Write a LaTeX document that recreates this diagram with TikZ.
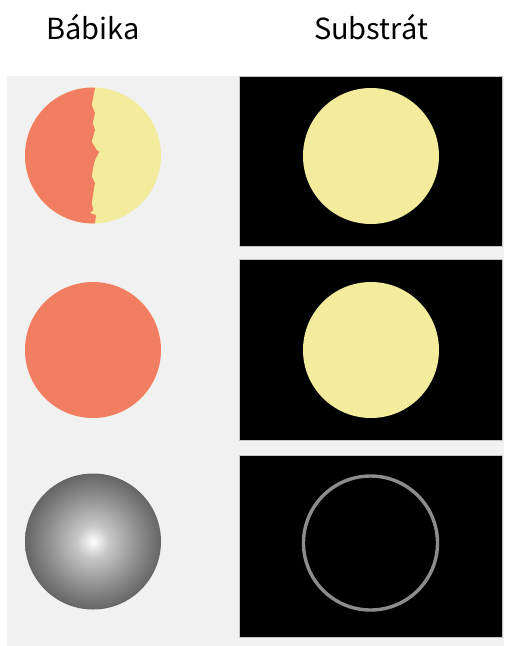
\documentclass[tikz,border=0pt]{standalone}
\usepackage{fontspec}
\setmainfont{Noto Sans CJK JP}
\definecolor{salmon}{HTML}{F27E61}
\definecolor{pale}{HTML}{F2EC9C}
\definecolor{backgr}{HTML}{F1F1F1}
\definecolor{ringgray}{HTML}{8C8C8C}
\pgfdeclareradialshading{bulb}{\pgfpoint{0bp}{0bp}}{color(0bp)=(white); color(6bp)=(black!22); color(17bp)=(black!45); color(28bp)=(black!66); color(33bp)=(black!80); color(35.4bp)=(black!95); color(50bp)=(black)}

\begin{document}
\begin{tikzpicture}[x=1pt, y=-1pt,
  title/.style={anchor=base, font=\fontsize{29}{30}\selectfont},
  panel/.style={fill=black, draw=gray!45, line width=0.8pt},
  disc/.style={circle, minimum size=136pt, inner sep=0pt}]
  \useasboundingbox (0,0) rectangle (504,646);
  \fill[backgr] (7,76) rectangle (504,646);

  \node[title] (bab) at (93,39) {Bábika};
  \node[title] (sub) at (371,39) {Substrát};

  % substrate panels
  \draw[panel] (239,76) rectangle (502,246);
  \draw[panel] (239,259) rectangle (502,440);
  \draw[panel] (239,455) rectangle (502,637);

  % row 1: torn doll
  \begin{scope}
    \clip (93,155.5) circle (68pt);
    \fill[pale] (20,80) rectangle (170,230);
    \fill[salmon] (20,80) -- (95,80) -- (95,88) -- (91.7,105) -- (95,113) -- (92.7,123)
      -- (95,130) -- (91.7,141.7) -- (96.7,150) -- (99.3,151.7) -- (95,160)
      -- (93.3,166.7) -- (91.7,176.7) -- (95,183) -- (93.3,193) -- (91.7,203)
      -- (93.3,210) -- (90,213) -- (96,215) -- (95,223) -- (95,230) -- (20,230) -- cycle;
  \end{scope}
  \node[disc] (d1) at (93,155.5) {};
  \node[disc, fill=pale] (s1) at (371,156) {};

  % row 2
  \node[disc, fill=salmon] (d2) at (93,350) {};
  \node[disc, fill=pale] (s2) at (371,350) {};

  % row 3
  \node[disc, shading=bulb] (d3) at (93,541.5) {};
  \node[disc, minimum size=134pt, draw=ringgray, line width=3.4pt] (s3) at (370.5,543) {};
\end{tikzpicture}
\end{document}
